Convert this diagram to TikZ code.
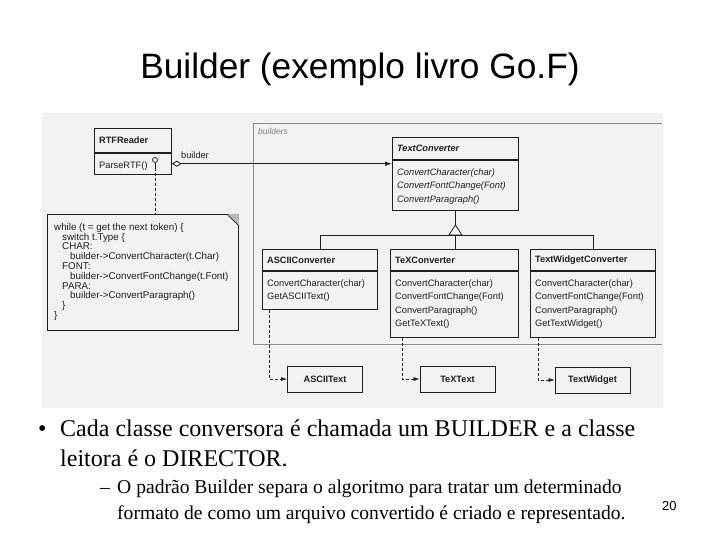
\documentclass[tikz,border=0pt]{standalone}
\usepackage{fontspec}
\setmainfont{Liberation Serif}
\newfontfamily\umlfont{Liberation Sans}
\newfontfamily\titlefont{Liberation Sans}
\usetikzlibrary{arrows.meta}
\definecolor{scanbg}{gray}{0.95}
\definecolor{ink}{gray}{0.12}
\definecolor{pkgline}{gray}{0.55}
\tikzset{
  box/.style={draw=ink, line width=0.8pt, anchor=north west, inner sep=0pt},
  htxt/.style={anchor=west, inner sep=0pt, font=\umlfont\fontsize{9.2}{10}\selectfont\bfseries, text=ink},
  btxt/.style={anchor=north west, inner sep=0pt, align=left, font=\umlfont\fontsize{9.3}{13.4}\selectfont, text=ink},
  prod/.style={draw=ink, line width=0.8pt, minimum width=75pt, minimum height=26pt, inner sep=0pt, font=\umlfont\fontsize{9.2}{10}\selectfont\bfseries, text=ink},
  dep/.style={draw=ink, line width=0.6pt, dash pattern=on 3pt off 2pt, -{Latex[length=6pt,width=4pt]}},
  assoc/.style={draw=ink, line width=0.8pt, {Diamond[open,length=10pt,width=6pt]}-{Latex[length=7pt,width=4.5pt]}},
  solid line/.style={draw=ink, line width=0.8pt},
  pkg/.style={draw=pkgline, line width=1pt},
}
\newcommand{\umlclass}[8]{%
  \node[box, minimum width=#4pt, minimum height=#5pt] (#1h) at (#2,#3) {};
  \node[box, minimum width=#4pt, minimum height=#6pt] (#1b) at (#1h.south west) {};
  \node[htxt] (#1ht) at ([xshift=5pt]#1h.west) {#7};
  \node[btxt] (#1bt) at ([xshift=5pt,yshift=-8.5pt]#1b.north west) {#8};
}
\begin{document}
\begin{tikzpicture}[x=1pt,y=-1pt]
\useasboundingbox (0,0) rectangle (720,540);
\fill[white] (0,0) rectangle (720,540);
% title
\node[font=\titlefont\fontsize{35.3}{40}\selectfont] (title) at (360,69) {Builder (exemplo livro Go.F)};
% scanned figure background
\fill[scanbg] (42,113) rectangle (663,408);
% package frame
\draw[pkg] (662,124) coordinate (pk1) -- (253,124) coordinate (pk2) -- (253,344) coordinate (pk3) -- (662,344) coordinate (pk4);
\node[anchor=west, inner sep=0pt, font=\umlfont\fontsize{8.5}{10}\selectfont\itshape, text=gray] (pkglabel) at (258,131) {builders};
% classes
\umlclass{rtf}{94}{128}{77}{24}{21}{RTFReader}{ParseRTF()}
\umlclass{tc}{392}{137}{126}{22}{50}{\itshape TextConverter}{\itshape ConvertCharacter(char)\\\itshape ConvertFontChange(Font)\\\itshape ConvertParagraph()}
\umlclass{ac}{262}{249}{115}{21}{38}{ASCIIConverter}{ConvertCharacter(char)\\GetASCIIText()}
\umlclass{tx}{390}{249}{128}{21}{66}{TeXConverter}{ConvertCharacter(char)\\ConvertFontChange(Font)\\ConvertParagraph()\\GetTeXText()}
\umlclass{tw}{530}{249}{125}{21}{66}{TextWidgetConverter}{ConvertCharacter(char)\\ConvertFontChange(Font)\\ConvertParagraph()\\GetTextWidget()}
% products
\node[prod] (asciitext) at (325,379) {ASCIIText};
\node[prod] (textext) at (457.5,379) {TeXText};
\node[prod] (twtext) at (592.5,380) {TextWidget};
% association builder
\draw[assoc] (rtfb.east) -- (tcb.west |- rtfb.east);
\node[anchor=south west, inner sep=0pt, font=\umlfont\fontsize{9.2}{10}\selectfont, text=ink] (builderlbl) at (181,159) {builder};
% inheritance
\coordinate (tri) at (tcb.south |- 0,235);
\coordinate (triapex) at ([yshift=10pt]tri);
\draw[solid line] (tcb.south) -- (triapex);
\draw[solid line, fill=scanbg] ([xshift=-6.5pt]tri) -- (triapex) -- ([xshift=6.5pt]tri) -- cycle;
\draw[solid line] (ach.north |- tri) -- (twh.north |- tri);
\draw[solid line] (ach.north |- tri) -- (ach.north);
\draw[solid line] (tri) -- (txh.north -| tri);
\draw[solid line] (twh.north |- tri) -- (twh.north);
% dependencies
\draw[dep] ([xshift=7pt]acb.south west) |- (asciitext.west);
\draw[dep] ([xshift=12pt]txb.south west) |- (textext.west);
\draw[dep] ([xshift=8pt]twb.south west) |- (twtext.west);
% note
\node[box, minimum width=191pt, minimum height=116pt] (note) at (47,214) {};
\fill[gray!55] ([xshift=-12pt]note.north east) -- (note.north east) -- ([yshift=-12pt]note.north east) -- cycle;
\draw[draw=ink, line width=0.7pt] ([xshift=-12pt]note.north east) -- ([yshift=-12pt]note.north east);
\node[anchor=north west, inner sep=0pt, align=left, font=\umlfont\fontsize{9.8}{9.8}\selectfont, text=ink] (notetext) at (54,223) {%
while (t = get the next token) \{\\
\hspace*{8pt}switch t.Type \{\\
\hspace*{8pt}CHAR:\\
\hspace*{16pt}builder->ConvertCharacter(t.Char)\\
\hspace*{8pt}FONT:\\
\hspace*{16pt}builder->ConvertFontChange(t.Font)\\
\hspace*{8pt}PARA:\\
\hspace*{16pt}builder->ConvertParagraph()\\
\hspace*{8pt}\}\\
\}};
% pin from ParseRTF
\node[draw=ink, line width=0.7pt, circle, minimum size=5pt, inner sep=0pt] (pin) at (155,160) {};
\draw[draw=ink, line width=0.7pt] (pin.south) -- ++(0,5) coordinate (pinstem);
\draw[draw=ink, line width=0.6pt, dash pattern=on 3pt off 2pt] (pinstem) -- (pinstem |- note.north);
% bottom text
\node[anchor=base west, inner sep=0pt, font=\fontsize{24}{30}\selectfont] (bul1) at (38,436) {•};
\node[anchor=base west, inner sep=0pt, font=\fontsize{24}{30}\selectfont] (l1) at (60,436) {Cada classe conversora é chamada um BUILDER e a classe};
\node[anchor=base west, inner sep=0pt, font=\fontsize{24}{30}\selectfont] (l2) at (60,466) {leitora é o DIRECTOR.};
\node[anchor=base west, inner sep=0pt, font=\fontsize{19.6}{24}\selectfont] (dash1) at (100,493) {–};
\node[anchor=base west, inner sep=0pt, font=\fontsize{19.6}{24}\selectfont] (s1) at (117,493) {O padrão Builder separa o algoritmo para tratar um determinado};
\node[anchor=base west, inner sep=0pt, font=\fontsize{19.6}{24}\selectfont] (s2) at (117,519) {formato de como um arquivo convertido é criado e representado.};
\node[anchor=base west, inner sep=0pt, font=\titlefont\fontsize{13}{15}\selectfont] (pgnum) at (662,510) {20};
\end{tikzpicture}
\end{document}
